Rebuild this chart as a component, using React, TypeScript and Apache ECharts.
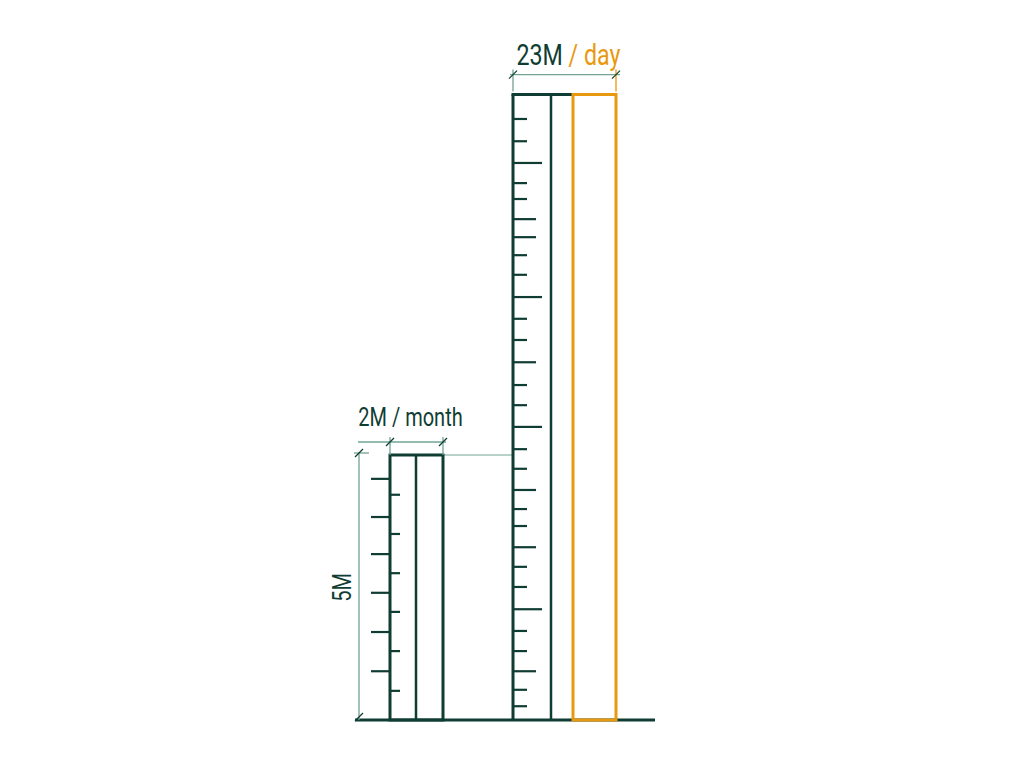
import React, { useEffect, useRef } from "react";
import * as echarts from "echarts";

// ---- data ----
const rates = ["2M", "23M"];
const rateUnits = ["/ month", "/ day"];
const heightLabel = "5M";
const rulerHeights = [5, 11.8];
const tallTicks = [
  11.34, 10.92, 10.51, 10.13, 9.83, 9.45, 9.11, 8.77, 8.4, 7.98, 7.57, 7.17, 6.75, 6.32, 5.94,
  5.53, 5.11, 4.74, 4.34, 3.98, 3.66, 3.26, 2.89, 2.51, 2.09, 1.68, 1.3, 0.92, 0.57, 0.26,
];
const tallTickKinds = [
  "s", "s", "l", "s", "s", "m", "m", "s", "s", "l", "s", "s", "m", "s", "s",
  "l", "s", "s", "m", "s", "s", "m", "s", "s", "l", "s", "s", "m", "s", "s",
];
const smallOuterTicks = [4.55, 3.83, 3.13, 2.4, 1.66, 0.92];
const smallInnerTicks = [4.25, 3.51, 2.77, 2.04, 1.3, 0.55];

// ---- styles / layout ----
const DARK = "#0f3d33";
const ORANGE = "#e8990f";
const THIN = "#72a394";
const FONT = "Roboto, 'Noto Sans', sans-serif";
const NARROW = 0.8;
const TICK_LEN: Record<string, number> = { s: 14, m: 23, l: 29 };
const L = {
  small: { left: 35, mid: 61, right: 88 },
  tall: { left: 158, mid: 196 },
  orange: { left: 218, right: 261 },
  baseEnd: 300,
  heightDim: 4,
};

const line = (x1: number, y1: number, x2: number, y2: number, stroke: string, lineWidth: number) => ({
  type: "line",
  shape: { x1, y1, x2, y2 },
  style: { stroke, lineWidth },
  silent: true,
});
const slash = (x: number, y: number) => line(x - 4, y + 4, x + 4, y - 4, DARK, 1.2);

function renderRuler(params: any, api: any) {
  const idx = api.value(0);
  const h = api.value(1);
  if (idx === 0) {
    const top = api.coord([L.small.left, h]);
    const bot = api.coord([L.small.left, 0]);
    const right = api.coord([L.small.right, h]);
    const midX = api.coord([L.small.mid, 0])[0];
    const dimX = api.coord([L.heightDim, 0])[0];
    const tallX = api.coord([L.tall.left, 0])[0];
    const dy = top[1] - 13;
    return {
      type: "group",
      children: [
        line(right[0], top[1], tallX, top[1], THIN, 1),
        {
          type: "rect",
          shape: { x: top[0], y: top[1], width: right[0] - top[0], height: bot[1] - top[1] },
          style: { fill: "none", stroke: DARK, lineWidth: 3 },
        },
        line(midX, top[1], midX, bot[1], DARK, 2.5),
        // width dimension
        line(top[0] - 32, dy, right[0] + 3, dy, THIN, 1.3),
        line(top[0], dy - 5, top[0], top[1], THIN, 1.3),
        line(right[0], dy - 5, right[0], top[1], THIN, 1.3),
        slash(top[0], dy),
        slash(right[0], dy),
        // height dimension
        line(dimX, top[1] - 2, dimX, bot[1], THIN, 1.3),
        line(dimX - 5, top[1] - 2, dimX + 10, top[1] - 2, THIN, 1.3),
        slash(dimX, top[1] - 2),
        slash(dimX, bot[1] - 3),
        {
          type: "text",
          x: (top[0] + right[0]) / 2 - 6,
          y: top[1] - 37,
          scaleX: NARROW,
          style: {
            text: rates[0] + " " + rateUnits[0],
            fill: DARK,
            fontSize: 25,
            fontFamily: FONT,
            align: "center",
            verticalAlign: "middle",
          },
        },
        {
          type: "text",
          x: dimX - 16,
          y: (top[1] + bot[1]) / 2,
          rotation: Math.PI / 2,
          scaleX: NARROW,
          style: {
            text: heightLabel,
            fill: DARK,
            fontSize: 25,
            fontFamily: FONT,
            align: "center",
            verticalAlign: "middle",
          },
        },
      ],
    };
  }
  const top = api.coord([L.tall.left, h]);
  const bot = api.coord([L.tall.left, 0]);
  const midX = api.coord([L.tall.mid, 0])[0];
  const oL = api.coord([L.orange.left, h])[0];
  const oR = api.coord([L.orange.right, h])[0];
  const dy = top[1] - 20;
  return {
    type: "group",
    children: [
      line(top[0], top[1], top[0], bot[1], DARK, 3),
      line(top[0] - 1.5, top[1], oL, top[1], DARK, 3),
      line(midX, top[1], midX, bot[1], DARK, 2.5),
      {
        type: "rect",
        shape: { x: oL, y: top[1], width: oR - oL, height: bot[1] - top[1] },
        style: { fill: "none", stroke: ORANGE, lineWidth: 3 },
      },
      line(top[0] - 3, dy, oR + 4, dy, THIN, 1.3),
      line(top[0], dy - 5, top[0], dy + 17, THIN, 1.3),
      line(oR, dy - 5, oR, dy + 17, ORANGE, 1.3),
      slash(top[0], dy),
      slash(oR, dy),
      {
        type: "text",
        x: (top[0] + oR) / 2 + 4,
        y: top[1] - 40,
        scaleX: NARROW,
        style: {
          text: "{a|" + rates[1] + "} {b|" + rateUnits[1] + "}",
          fill: DARK,
          fontSize: 29,
          fontFamily: FONT,
          align: "center",
          verticalAlign: "middle",
          rich: {
            a: { fill: DARK, fontSize: 29, fontFamily: FONT },
            b: { fill: ORANGE, fontSize: 29, fontFamily: FONT },
          },
        },
      },
    ],
  };
}

function tickSeries(values: number[], x: number, dir: number, lenOf: (i: number) => number) {
  return {
    type: "custom",
    coordinateSystem: "cartesian2d",
    clip: false,
    silent: true,
    data: values.map((v, i) => [x, v, i]),
    renderItem: (params: any, api: any) => {
      const p = api.coord([api.value(0), api.value(1)]);
      const len = lenOf(api.value(2));
      return line(p[0], p[1], p[0] + dir * len, p[1], DARK, 2.2);
    },
  };
}

export default function App() {
  const ref = useRef<HTMLDivElement>(null);
  useEffect(() => {
    if (!ref.current) return;
    const chart = echarts.init(ref.current, undefined, { renderer: "svg" });
    chart.setOption({
      animation: false,
      backgroundColor: "#ffffff",
      grid: { left: 355, right: 369, top: 84, bottom: 48 },
      xAxis: { type: "value", min: 0, max: L.baseEnd, show: false },
      yAxis: { type: "value", min: 0, max: 12, show: false },
      series: [
        {
          type: "custom",
          coordinateSystem: "cartesian2d",
          clip: false,
          silent: true,
          data: [[0, 0]],
          renderItem: (params: any, api: any) => {
            const a = api.coord([0, 0]);
            const b = api.coord([L.baseEnd, 0]);
            return line(a[0], a[1], b[0], b[1], DARK, 3);
          },
        },
        {
          type: "custom",
          coordinateSystem: "cartesian2d",
          clip: false,
          silent: true,
          data: rulerHeights.map((h, i) => [i, h]),
          renderItem: renderRuler,
        },
        tickSeries(tallTicks, L.tall.left, 1, (i) => TICK_LEN[tallTickKinds[i]]),
        tickSeries(smallOuterTicks, L.small.left, -1, () => 19),
        tickSeries(smallInnerTicks, L.small.left, 1, () => 10),
      ],
    });
    return () => chart.dispose();
  }, []);
  return (
    <div
      ref={ref}
      style={{ position: "fixed", left: 0, top: 0, width: 1024, height: 768, background: "#fff" }}
    />
  );
}
